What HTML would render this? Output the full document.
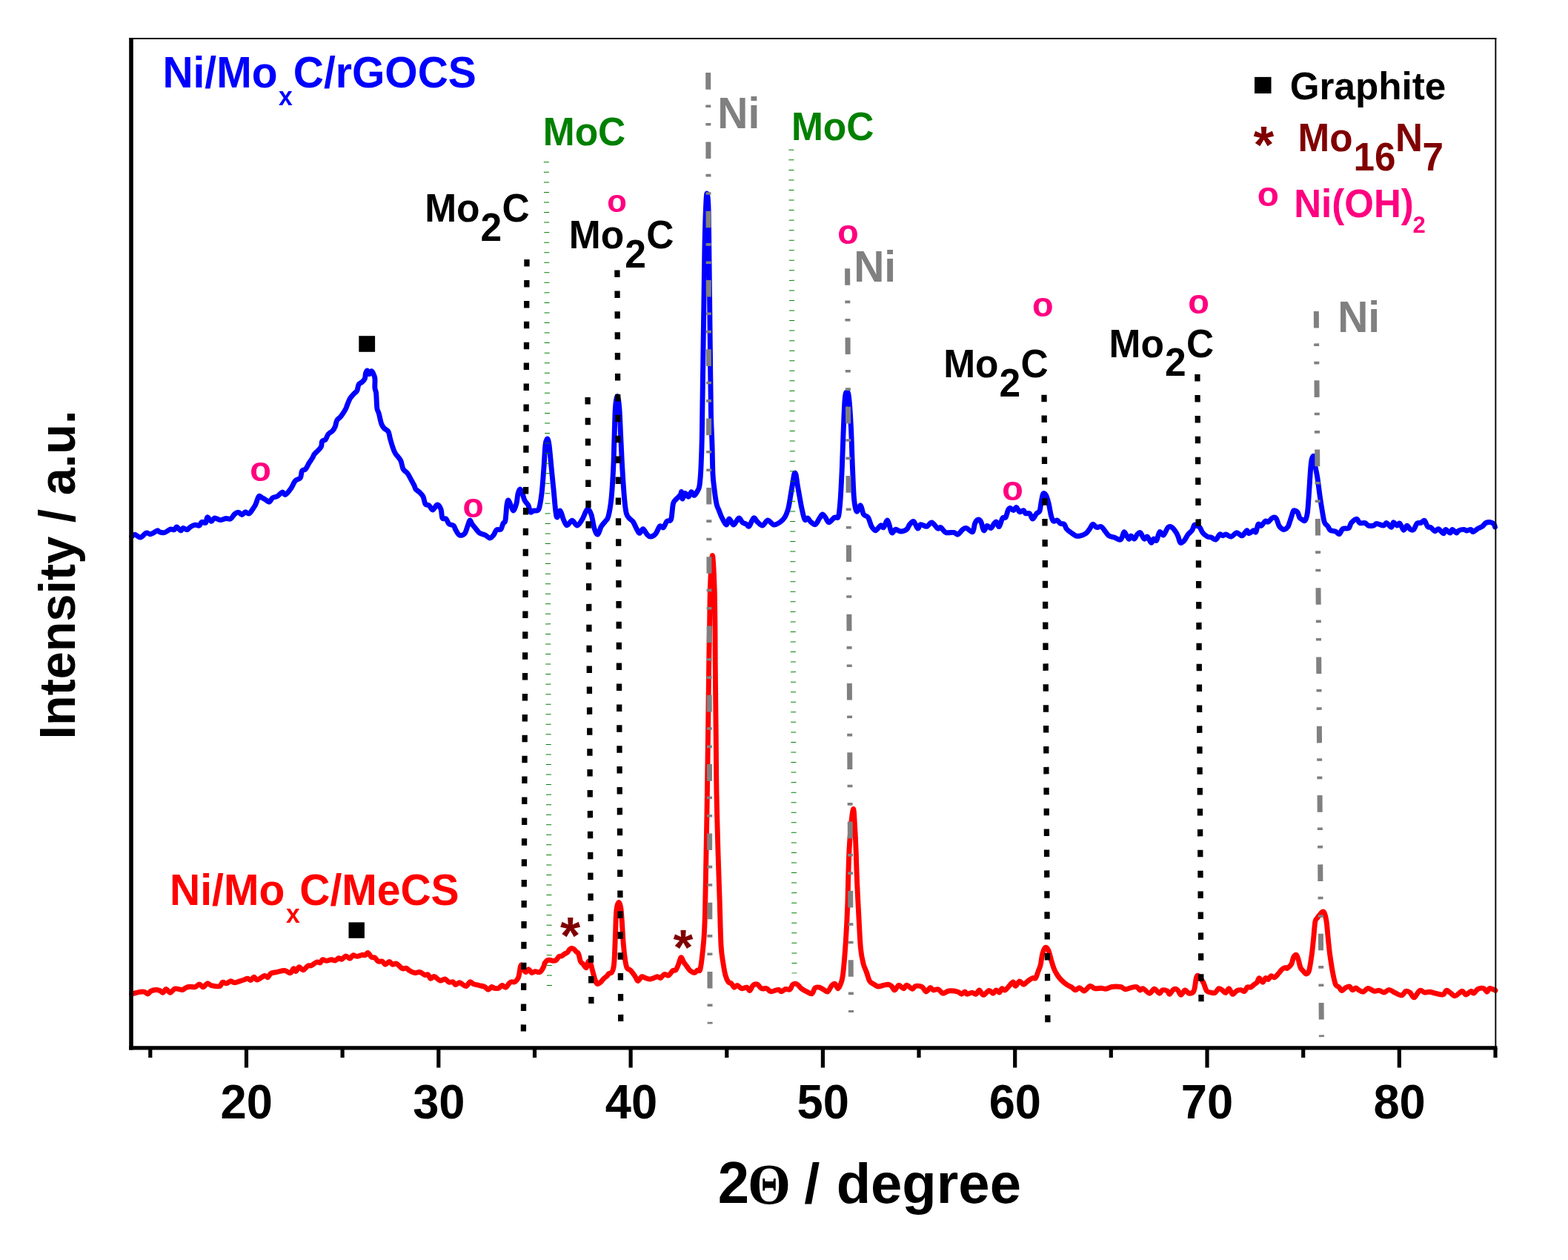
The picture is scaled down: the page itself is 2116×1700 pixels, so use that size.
<!DOCTYPE html><html><head><meta charset="utf-8"><title>XRD</title><style>html,body{margin:0;padding:0;background:#fff;overflow:hidden}svg{display:block}</style></head><body>
<svg width="2116" height="1700" viewBox="0 0 2116 1700">
<rect width="2116" height="1700" fill="#fff"/>
<path d="M177.6,723.9 C178.3,723.5 180.0,721.0 182.0,721.2 C184.0,721.4 187.1,725.4 189.6,725.0 C192.1,724.6 195.0,719.7 197.2,719.0 C199.4,718.3 201.0,720.7 202.6,720.7 C204.2,720.7 205.4,719.8 207.0,719.0 C208.6,718.2 211.0,716.0 212.4,715.8 C213.8,715.6 214.1,717.4 215.7,717.9 C217.3,718.4 219.8,719.1 222.2,718.5 C224.5,717.9 227.6,714.7 229.8,714.1 C232.0,713.5 233.8,715.2 235.2,714.7 C236.6,714.2 237.1,710.7 238.5,710.9 C239.9,711.1 242.5,715.5 243.9,715.8 C245.3,716.1 245.8,712.7 247.2,712.5 C248.6,712.3 251.0,715.0 252.6,714.7 C254.2,714.4 255.2,712.0 257.0,710.9 C258.8,709.8 261.5,708.5 263.5,708.2 C265.5,707.9 267.4,709.9 268.9,709.2 C270.3,708.6 270.8,704.9 272.2,704.3 C273.6,703.7 276.3,706.5 277.6,705.4 C278.9,704.3 278.5,698.1 279.8,697.8 C281.1,697.4 283.6,703.1 285.2,703.3 C286.8,703.5 287.6,699.2 289.6,698.9 C291.6,698.6 294.7,701.5 297.2,701.6 C299.7,701.7 302.4,699.8 304.8,699.5 C307.2,699.2 309.3,701.0 311.3,700.0 C313.3,699.0 314.9,695.0 316.7,693.5 C318.5,692.0 320.6,691.1 322.2,691.3 C323.8,691.5 325.1,694.7 326.5,694.6 C327.9,694.5 329.3,691.1 330.9,690.8 C332.5,690.5 334.5,693.7 336.3,692.9 C338.1,692.1 340.2,688.0 341.7,685.9 C343.1,683.8 343.7,683.1 345.0,680.4 C346.3,677.7 347.9,671.0 349.3,669.6 C350.8,668.2 352.2,671.0 353.7,671.7 C355.1,672.4 356.4,673.0 358.0,673.9 C359.6,674.8 361.9,677.6 363.5,677.2 C365.1,676.8 366.0,673.0 367.8,671.7 C369.6,670.4 372.1,670.9 374.3,669.6 C376.5,668.3 379.1,664.5 380.9,664.1 C382.7,663.7 383.2,668.3 385.2,667.4 C387.2,666.5 390.6,661.8 392.8,658.7 C395.0,655.6 396.2,651.2 398.3,648.9 C400.4,646.6 403.8,647.0 405.3,644.7 C406.9,642.4 406.4,637.3 407.6,635.3 C408.8,633.3 410.8,634.7 412.4,632.9 C414.0,631.1 415.5,627.2 417.1,624.7 C418.7,622.2 420.6,619.6 421.8,617.6 C423.0,615.6 422.9,614.5 424.1,612.9 C425.3,611.3 427.2,610.0 428.8,608.2 C430.4,606.5 432.5,604.5 433.5,602.4 C434.5,600.2 433.7,596.9 434.7,595.3 C435.7,593.7 438.0,594.5 439.4,592.9 C440.8,591.3 441.3,587.8 442.9,585.9 C444.5,584.0 447.2,583.0 448.8,581.2 C450.4,579.4 451.4,577.6 452.4,575.3 C453.4,572.9 453.5,569.2 454.7,567.1 C455.9,565.0 458.0,564.0 459.4,562.4 C460.8,560.8 461.7,559.4 462.9,557.6 C464.1,555.8 465.5,553.8 466.5,551.8 C467.5,549.8 467.8,548.3 468.8,545.9 C469.8,543.5 471.0,540.0 472.4,537.6 C473.8,535.2 475.5,533.5 477.1,531.8 C478.7,530.0 480.6,529.3 481.8,527.1 C483.0,524.9 482.9,520.8 484.1,518.8 C485.3,516.8 487.4,516.7 488.8,515.3 C490.2,513.9 491.6,512.6 492.4,510.6 C493.2,508.6 492.9,505.3 493.5,503.5 C494.1,501.7 495.1,499.8 495.9,500.0 C496.7,500.2 497.3,504.6 498.2,504.7 C499.1,504.8 500.3,500.8 501.2,500.6 C502.1,500.4 502.7,501.8 503.5,503.5 C504.3,505.2 505.5,507.3 505.9,510.6 C506.3,513.9 505.6,520.2 505.9,523.5 C506.2,526.8 507.1,526.1 507.6,530.6 C508.1,535.1 508.2,546.1 508.8,550.6 C509.4,555.1 510.2,554.1 511.2,557.6 C512.2,561.1 513.5,568.5 514.7,571.8 C515.9,575.1 516.6,575.8 518.2,577.6 C519.8,579.4 522.7,580.0 524.1,582.4 C525.5,584.8 525.5,588.3 526.5,591.8 C527.5,595.3 528.8,600.2 530.0,603.5 C531.2,606.8 531.7,608.8 533.5,611.8 C535.3,614.8 538.8,617.7 540.6,621.2 C542.4,624.7 542.5,630.0 544.1,632.9 C545.7,635.8 548.2,636.4 550.0,638.8 C551.8,641.2 553.2,644.4 554.7,647.1 C556.2,649.8 558.0,652.9 559.0,655.0 C560.0,657.1 559.8,658.5 561.0,660.0 C562.2,661.5 564.3,662.3 566.0,664.0 C567.7,665.7 569.7,667.3 571.0,670.0 C572.3,672.7 572.7,678.0 574.0,680.0 C575.3,682.0 577.3,680.7 579.0,682.0 C580.7,683.3 582.2,688.2 584.0,688.0 C585.8,687.8 588.2,681.2 590.0,681.0 C591.8,680.8 593.8,684.0 595.0,687.0 C596.2,690.0 595.8,696.8 597.0,699.0 C598.2,701.2 600.5,698.7 602.0,700.0 C603.5,701.3 604.3,705.5 606.0,707.0 C607.7,708.5 610.5,707.7 612.0,709.0 C613.5,710.3 613.7,712.8 615.0,715.0 C616.3,717.2 618.0,721.2 620.0,722.0 C622.0,722.8 625.2,722.0 627.0,720.0 C628.8,718.0 629.8,713.0 631.0,710.0 C632.2,707.0 633.0,702.5 634.0,702.0 C635.0,701.5 635.8,705.3 637.0,707.0 C638.2,708.7 639.3,710.0 641.0,712.0 C642.7,714.0 644.7,717.3 647.0,719.0 C649.3,720.7 652.7,720.8 655.0,722.0 C657.3,723.2 659.2,726.0 661.0,726.0 C662.8,726.0 664.5,723.8 666.0,722.0 C667.5,720.2 668.3,716.3 670.0,715.0 C671.7,713.7 674.5,715.5 676.0,714.0 C677.5,712.5 678.0,708.0 679.0,706.0 C680.0,704.0 681.2,706.2 682.0,702.0 C682.8,697.8 683.3,685.5 684.0,681.0 C684.7,676.5 685.2,675.0 686.0,675.0 C686.8,675.0 687.8,678.7 689.0,681.0 C690.2,683.3 691.7,689.3 693.0,689.0 C694.3,688.7 696.0,682.8 697.0,679.0 C698.0,675.2 698.2,669.2 699.0,666.0 C699.8,662.8 701.0,660.0 702.0,660.0 C703.0,660.0 704.0,663.5 705.0,666.0 C706.0,668.5 706.7,672.3 708.0,675.0 C709.3,677.7 711.7,679.3 713.0,682.0 C714.3,684.7 714.8,689.8 716.0,691.0 C717.2,692.2 718.2,689.7 720.0,689.0 C721.8,688.3 725.2,690.8 727.0,687.0 C728.8,683.2 729.8,675.5 731.0,666.0 C732.2,656.5 733.2,641.0 734.0,630.0 C734.8,619.0 735.2,606.3 736.0,600.0 C736.8,593.7 737.7,592.0 738.5,592.0 C739.3,592.0 740.1,593.7 741.0,600.0 C741.9,606.3 743.0,620.0 744.0,630.0 C745.0,640.0 745.8,648.8 747.0,660.0 C748.2,671.2 749.5,692.2 751.0,697.0 C752.5,701.8 754.5,688.5 756.0,689.0 C757.5,689.5 758.7,696.8 760.0,700.0 C761.3,703.2 762.9,706.7 764.0,708.0 C765.1,709.3 765.4,708.6 766.8,707.6 C768.2,706.6 770.2,702.0 772.2,702.2 C774.2,702.4 776.8,709.2 779.0,709.0 C781.2,708.8 783.5,704.4 785.7,700.8 C788.0,697.2 790.5,688.4 792.5,687.3 C794.5,686.2 796.3,689.8 797.9,694.1 C799.5,698.4 800.5,708.5 802.0,713.0 C803.5,717.5 805.1,721.6 806.7,721.1 C808.3,720.6 809.7,713.2 811.4,710.3 C813.1,707.4 815.2,705.8 816.8,703.5 C818.4,701.2 819.5,702.0 820.9,696.8 C822.3,691.6 823.9,683.2 825.0,672.4 C826.1,661.6 827.0,645.3 827.7,631.8 C828.4,618.3 828.5,604.7 829.0,591.2 C829.5,577.7 829.7,560.1 830.4,550.6 C831.1,541.1 832.2,534.4 833.1,534.4 C834.0,534.4 835.0,541.1 835.8,550.6 C836.6,560.1 837.1,577.7 837.8,591.2 C838.5,604.7 839.0,618.3 839.8,631.8 C840.6,645.3 841.7,662.2 842.6,672.4 C843.5,682.5 844.2,688.3 845.3,692.7 C846.4,697.1 847.5,697.1 849.0,699.0 C850.5,700.9 852.8,701.8 854.5,704.3 C856.2,706.8 857.8,711.2 859.2,713.7 C860.6,716.2 861.6,719.4 863.0,719.4 C864.4,719.4 866.1,713.4 867.8,713.7 C869.5,714.0 871.7,719.6 873.4,721.3 C875.1,723.0 876.2,724.3 878.1,724.1 C880.0,723.9 882.8,722.6 884.8,720.3 C886.8,717.9 888.7,711.4 890.4,710.0 C892.1,708.6 893.6,712.9 895.2,711.8 C896.8,710.7 898.2,705.2 899.9,703.3 C901.6,701.4 904.2,704.4 905.6,700.5 C907.0,696.6 907.3,684.1 908.4,679.7 C909.5,675.3 910.9,675.4 912.0,674.0 C913.1,672.6 913.9,672.4 915.0,671.2 C916.1,670.0 917.7,668.3 918.5,667.0 C919.3,665.7 919.3,662.6 919.7,663.6 C920.1,664.6 920.2,672.7 921.0,673.0 C921.8,673.3 923.1,666.0 924.5,665.5 C925.9,665.0 927.8,670.5 929.2,670.2 C930.6,669.9 931.8,663.9 933.0,663.6 C934.2,663.3 935.4,668.5 936.7,668.4 C938.0,668.3 939.8,665.2 941.0,663.0 C942.2,660.8 943.2,660.5 944.0,655.0 C944.8,649.5 945.5,640.8 946.0,630.0 C946.5,619.2 947.0,605.0 947.3,590.0 C947.6,575.0 947.7,560.0 948.0,540.0 C948.3,520.0 948.7,493.3 949.0,470.0 C949.3,446.7 949.7,423.3 950.0,400.0 C950.3,376.7 950.6,350.0 951.0,330.0 C951.4,310.0 952.0,291.5 952.5,280.0 C953.0,268.5 953.4,261.0 954.0,261.0 C954.6,261.0 955.5,265.2 956.0,280.0 C956.5,294.8 956.7,326.7 957.0,350.0 C957.3,373.3 957.5,395.0 957.8,420.0 C958.1,445.0 958.4,476.7 958.7,500.0 C959.0,523.3 959.1,543.3 959.5,560.0 C959.9,576.7 960.6,586.7 961.0,600.0 C961.4,613.3 961.5,630.0 962.0,640.0 C962.5,650.0 963.2,653.3 964.0,660.0 C964.8,666.7 966.0,675.3 967.0,680.0 C968.0,684.7 968.8,685.0 970.0,688.0 C971.2,691.0 972.3,694.7 974.0,698.0 C975.7,701.3 978.3,707.7 980.0,708.0 C981.7,708.3 982.3,700.0 984.0,700.0 C985.7,700.0 987.8,708.2 990.0,708.0 C992.2,707.8 995.0,699.5 997.0,699.0 C999.0,698.5 1000.3,703.7 1002.0,705.0 C1003.7,706.3 1005.5,706.2 1007.0,707.0 C1008.5,707.8 1009.3,711.3 1011.0,710.0 C1012.7,708.7 1015.2,700.0 1017.0,699.0 C1018.8,698.0 1020.0,702.3 1022.0,704.0 C1024.0,705.7 1026.7,709.3 1029.0,709.0 C1031.3,708.7 1033.5,702.2 1036.0,702.0 C1038.5,701.8 1041.3,707.5 1044.0,708.0 C1046.7,708.5 1049.5,706.7 1052.0,705.0 C1054.5,703.3 1057.0,701.3 1059.0,698.0 C1061.0,694.7 1062.7,690.0 1064.0,685.0 C1065.3,680.0 1066.0,673.8 1067.0,668.0 C1068.0,662.2 1069.2,654.8 1070.0,650.0 C1070.8,645.2 1071.3,640.7 1072.0,639.0 C1072.7,637.3 1073.3,637.7 1074.0,640.0 C1074.7,642.3 1075.2,648.0 1076.0,653.0 C1076.8,658.0 1078.0,664.5 1079.0,670.0 C1080.0,675.5 1080.8,680.8 1082.0,686.0 C1083.2,691.2 1084.7,698.8 1086.0,701.0 C1087.3,703.2 1088.7,698.5 1090.0,699.0 C1091.3,699.5 1092.3,702.6 1094.0,704.0 C1095.7,705.4 1098.4,708.4 1100.4,707.6 C1102.4,706.8 1104.2,701.7 1105.8,699.4 C1107.4,697.1 1108.6,694.2 1109.9,694.0 C1111.2,693.8 1112.4,696.3 1113.9,698.1 C1115.4,699.9 1116.7,704.9 1118.7,704.9 C1120.7,704.9 1124.0,699.5 1126.1,698.1 C1128.2,696.7 1130.2,701.0 1131.5,696.7 C1132.8,692.4 1133.4,683.2 1134.2,672.4 C1135.0,661.6 1135.6,647.6 1136.3,631.8 C1137.0,616.0 1137.6,593.5 1138.3,577.7 C1139.0,561.9 1139.5,545.2 1140.3,537.1 C1141.1,529.0 1142.1,529.0 1143.0,529.0 C1143.9,529.0 1144.8,529.0 1145.7,537.1 C1146.6,545.2 1147.7,561.9 1148.5,577.7 C1149.3,593.5 1149.8,616.0 1150.5,631.8 C1151.2,647.6 1151.6,662.7 1152.5,672.4 C1153.4,682.1 1154.4,688.4 1155.9,690.0 C1157.4,691.6 1159.7,681.2 1161.3,681.9 C1162.9,682.6 1163.7,691.3 1165.4,694.0 C1167.1,696.7 1169.7,695.4 1171.5,698.1 C1173.3,700.8 1174.5,707.4 1176.2,710.3 C1177.9,713.2 1179.6,715.9 1181.6,715.7 C1183.6,715.5 1186.6,709.6 1188.4,708.9 C1190.2,708.2 1190.8,712.7 1192.4,711.6 C1194.0,710.5 1196.0,701.1 1197.8,702.2 C1199.6,703.3 1201.5,716.4 1203.3,718.4 C1205.1,720.4 1206.7,714.5 1208.7,714.3 C1210.7,714.1 1212.9,717.0 1215.4,717.0 C1217.9,717.0 1221.6,715.9 1223.6,714.3 C1225.6,712.7 1226.0,709.4 1227.6,707.6 C1229.2,705.8 1231.2,702.6 1233.0,703.5 C1234.8,704.4 1236.8,712.3 1238.4,713.0 C1240.0,713.7 1240.5,708.1 1242.5,707.6 C1244.5,707.1 1248.1,710.8 1250.6,710.3 C1253.1,709.8 1254.9,704.4 1257.4,704.9 C1259.9,705.4 1263.5,711.9 1265.5,713.0 C1267.5,714.1 1267.8,710.7 1269.6,711.6 C1271.4,712.5 1273.4,717.3 1276.3,718.4 C1279.2,719.5 1284.5,717.9 1287.2,718.4 C1289.9,718.9 1290.6,721.8 1292.6,721.1 C1294.6,720.4 1297.4,715.7 1299.3,714.3 C1301.2,712.9 1302.0,711.9 1304.2,712.5 C1306.4,713.1 1310.6,718.7 1312.5,717.7 C1314.4,716.7 1314.4,709.1 1315.6,706.3 C1316.8,703.5 1318.4,701.5 1319.8,701.1 C1321.2,700.8 1322.6,701.8 1323.9,704.2 C1325.2,706.6 1326.2,714.8 1327.6,715.7 C1329.0,716.6 1330.6,709.9 1332.2,709.4 C1333.8,708.9 1335.8,713.0 1337.4,712.5 C1339.0,712.0 1340.4,707.7 1341.6,706.3 C1342.8,704.9 1343.6,703.5 1344.7,704.2 C1345.8,704.9 1346.9,711.4 1348.3,710.5 C1349.7,709.6 1351.5,701.1 1353.0,699.0 C1354.5,696.9 1356.0,699.7 1357.2,698.0 C1358.4,696.3 1359.3,690.7 1360.3,688.6 C1361.3,686.5 1362.2,685.5 1363.4,685.5 C1364.6,685.5 1366.2,688.8 1367.6,688.6 C1369.0,688.4 1370.3,684.1 1371.7,684.5 C1373.1,684.9 1374.3,690.0 1375.9,690.7 C1377.5,691.4 1379.7,688.2 1381.1,688.6 C1382.5,689.0 1382.8,692.1 1384.2,692.8 C1385.6,693.5 1387.8,691.6 1389.4,692.8 C1391.0,694.0 1392.0,700.1 1393.6,700.1 C1395.2,700.1 1397.2,694.5 1398.8,692.8 C1400.3,691.1 1401.9,692.1 1402.9,689.7 C1403.9,687.3 1404.3,681.9 1405.0,678.2 C1405.7,674.6 1406.4,669.9 1407.1,667.8 C1407.8,665.7 1408.3,665.4 1409.2,665.7 C1410.1,666.1 1411.3,667.5 1412.3,669.9 C1413.3,672.3 1414.4,676.0 1415.4,680.3 C1416.4,684.6 1417.5,692.1 1418.5,695.9 C1419.5,699.7 1420.2,702.2 1421.6,703.2 C1423.0,704.2 1425.2,701.6 1426.8,702.1 C1428.4,702.6 1429.4,705.4 1431.0,706.3 C1432.6,707.2 1434.8,706.1 1436.2,707.3 C1437.6,708.5 1437.7,711.7 1439.3,713.6 C1440.9,715.5 1443.5,717.2 1445.6,718.8 C1447.7,720.3 1449.7,722.2 1451.8,722.9 C1453.9,723.6 1455.8,723.4 1458.0,722.9 C1460.2,722.4 1463.2,721.3 1465.3,719.8 C1467.4,718.2 1468.9,715.7 1470.5,713.6 C1472.1,711.5 1473.1,707.6 1474.7,707.3 C1476.3,706.9 1478.0,711.0 1479.9,711.5 C1481.8,712.0 1484.2,709.6 1486.1,710.5 C1488.0,711.4 1489.6,714.6 1491.3,716.7 C1493.0,718.8 1494.4,721.5 1496.5,722.9 C1498.6,724.3 1501.2,724.1 1503.8,725.0 C1506.4,725.9 1510.0,729.1 1512.1,728.1 C1514.2,727.1 1515.3,720.3 1516.3,718.8 C1517.3,717.2 1516.9,717.4 1518.1,718.8 C1519.3,720.2 1521.9,726.4 1523.3,727.1 C1524.7,727.8 1525.2,722.9 1526.4,722.9 C1527.6,722.9 1529.2,727.4 1530.6,727.1 C1532.0,726.8 1533.4,722.3 1534.8,720.9 C1536.2,719.5 1537.4,717.8 1538.9,718.8 C1540.5,719.8 1542.5,726.2 1544.1,727.1 C1545.7,728.0 1546.7,723.1 1548.3,724.0 C1549.9,724.9 1552.1,731.8 1553.5,732.3 C1554.9,732.8 1555.4,727.6 1556.6,727.1 C1557.8,726.6 1559.3,730.8 1560.7,729.2 C1562.1,727.6 1563.3,718.9 1564.9,717.7 C1566.5,716.5 1568.2,722.9 1570.1,721.9 C1572.0,720.9 1574.4,713.2 1576.3,711.5 C1578.2,709.8 1579.8,710.5 1581.5,711.5 C1583.2,712.5 1585.3,715.6 1586.7,717.7 C1588.1,719.8 1588.9,721.6 1589.9,724.0 C1591.0,726.4 1591.6,731.4 1593.0,732.3 C1594.4,733.2 1596.5,731.1 1598.2,729.2 C1599.9,727.3 1601.7,723.1 1603.4,720.9 C1605.1,718.6 1607.2,717.8 1608.6,715.7 C1610.0,713.6 1610.7,709.5 1611.7,708.4 C1612.7,707.3 1613.6,708.9 1614.8,709.4 C1616.0,709.9 1617.6,709.9 1619.0,711.5 C1620.4,713.1 1621.4,716.7 1623.1,718.8 C1624.8,720.9 1627.5,723.0 1629.4,724.0 C1631.3,725.0 1632.7,724.3 1634.6,725.0 C1636.5,725.7 1638.9,728.8 1640.8,728.1 C1642.7,727.4 1644.4,721.8 1646.0,720.9 C1647.6,720.0 1648.8,722.9 1650.2,722.9 C1651.6,722.9 1652.4,720.7 1654.3,720.9 C1656.2,721.1 1659.2,724.4 1661.6,724.0 C1664.0,723.6 1666.5,719.0 1668.9,718.8 C1671.3,718.6 1674.0,723.4 1676.2,722.9 C1678.5,722.4 1680.9,716.2 1682.4,715.7 C1684.0,715.2 1683.9,719.8 1685.5,719.8 C1687.1,719.8 1690.2,716.1 1691.8,715.7 C1693.4,715.4 1693.9,719.1 1694.9,717.7 C1695.9,716.3 1696.8,708.7 1698.0,707.3 C1699.2,705.9 1700.5,710.1 1702.1,709.4 C1703.6,708.7 1705.7,704.1 1707.3,703.2 C1708.9,702.3 1709.9,704.9 1711.5,704.2 C1713.1,703.5 1715.0,699.9 1716.7,699.0 C1718.4,698.1 1720.3,697.3 1721.9,699.0 C1723.5,700.7 1724.7,707.0 1726.1,709.4 C1727.5,711.8 1729.0,712.8 1730.2,713.6 C1731.4,714.4 1732.2,714.9 1733.5,714.4 C1734.8,713.9 1736.7,712.7 1737.9,710.9 C1739.1,709.1 1739.7,706.3 1740.6,703.8 C1741.5,701.3 1742.3,698.4 1743.2,695.9 C1744.1,693.4 1744.6,689.5 1745.9,688.8 C1747.2,688.1 1749.9,689.9 1751.2,691.5 C1752.5,693.1 1752.8,696.9 1753.8,698.5 C1754.8,700.1 1756.2,700.6 1757.4,701.2 C1758.7,701.8 1760.1,703.7 1761.3,702.1 C1762.5,700.5 1763.6,697.0 1764.4,691.5 C1765.2,686.0 1765.6,677.5 1766.2,669.4 C1766.8,661.3 1767.4,650.2 1767.9,642.9 C1768.4,635.5 1768.8,629.4 1769.3,625.3 C1769.8,621.2 1770.0,619.8 1770.6,618.2 C1771.2,616.6 1772.2,614.4 1772.8,615.6 C1773.4,616.8 1773.3,620.8 1774.1,625.3 C1774.9,629.8 1776.4,635.5 1777.6,642.9 C1778.8,650.2 1780.0,661.3 1781.2,669.4 C1782.4,677.5 1783.7,685.6 1784.7,691.5 C1785.7,697.4 1786.2,701.6 1787.4,704.7 C1788.6,707.8 1790.5,708.2 1791.8,710.0 C1793.1,711.8 1793.5,714.1 1795.3,715.3 C1797.1,716.5 1800.4,716.2 1802.4,717.1 C1804.5,718.0 1806.0,721.2 1807.6,720.6 C1809.2,720.0 1810.0,714.8 1812.1,713.5 C1814.2,712.2 1818.1,713.9 1820.0,712.6 C1821.9,711.3 1821.7,707.7 1823.5,705.6 C1825.3,703.5 1828.7,700.3 1830.6,700.3 C1832.5,700.3 1833.1,704.7 1835.0,705.6 C1836.9,706.5 1840.2,705.0 1842.1,705.6 C1844.0,706.2 1844.6,708.5 1846.5,709.1 C1848.4,709.7 1851.6,709.5 1853.5,709.1 C1855.4,708.7 1855.7,706.5 1857.9,706.5 C1860.1,706.5 1864.6,709.2 1866.8,709.1 C1869.0,709.0 1869.4,705.2 1871.2,705.6 C1873.0,706.0 1876.0,711.6 1877.6,711.4 C1879.2,711.2 1879.3,705.0 1880.6,704.6 C1881.8,704.2 1883.7,708.9 1885.1,709.1 C1886.5,709.4 1887.4,705.1 1888.9,706.1 C1890.4,707.1 1892.6,714.7 1894.2,715.2 C1895.8,715.7 1897.2,709.2 1898.7,709.1 C1900.2,709.0 1901.8,713.5 1903.3,714.4 C1904.8,715.3 1906.3,715.8 1907.8,714.4 C1909.3,713.0 1910.7,707.6 1912.3,706.1 C1913.9,704.6 1915.9,706.0 1917.6,705.4 C1919.2,704.8 1920.7,701.4 1922.2,702.3 C1923.7,703.2 1925.3,709.2 1926.7,710.7 C1928.1,712.2 1928.9,710.4 1930.5,711.4 C1932.1,712.4 1934.7,716.3 1936.5,716.7 C1938.3,717.1 1939.2,713.2 1941.1,713.7 C1943.0,714.2 1946.3,719.6 1947.9,719.7 C1949.5,719.8 1949.4,714.5 1950.9,714.4 C1952.4,714.3 1955.5,719.0 1957.0,719.0 C1958.5,719.0 1958.6,714.4 1960.0,714.4 C1961.4,714.4 1963.9,718.7 1965.3,719.0 C1966.7,719.3 1966.7,716.8 1968.3,716.0 C1969.9,715.2 1973.2,714.4 1975.1,714.4 C1977.0,714.4 1978.0,716.0 1979.6,716.0 C1981.2,716.0 1983.5,714.1 1984.9,714.4 C1986.3,714.6 1986.3,717.8 1988.0,717.5 C1989.7,717.2 1992.8,714.1 1994.8,712.9 C1996.8,711.7 1998.3,711.6 2000.1,710.4 C2001.9,709.1 2003.5,706.4 2005.4,705.4 C2007.3,704.4 2009.7,704.4 2011.4,704.6 C2013.2,704.9 2014.9,705.8 2015.9,706.9 C2016.9,708.0 2017.2,710.3 2017.5,711.0" fill="none" stroke="#0000FF" stroke-width="6.9" stroke-linejoin="round" stroke-linecap="round"/>
<path d="M177.6,1341.0 C179.4,1340.5 185.6,1338.8 188.5,1338.3 C191.4,1337.8 193.2,1337.8 195.0,1338.3 C196.8,1338.8 197.9,1341.2 199.3,1341.0 C200.8,1340.8 201.9,1338.1 203.7,1337.2 C205.5,1336.3 208.2,1335.6 210.2,1335.5 C212.2,1335.4 214.1,1336.0 215.7,1336.6 C217.3,1337.2 218.6,1339.6 220.0,1339.3 C221.4,1339.0 222.7,1334.5 224.3,1334.5 C225.9,1334.5 227.8,1339.4 229.8,1339.3 C231.8,1339.2 233.6,1334.5 236.3,1333.9 C239.0,1333.3 243.8,1335.7 246.1,1335.5 C248.4,1335.3 248.8,1333.5 250.4,1332.8 C252.0,1332.1 253.7,1331.4 255.9,1331.2 C258.1,1331.0 261.3,1332.2 263.5,1331.7 C265.7,1331.2 267.1,1327.9 268.9,1327.9 C270.7,1327.9 272.5,1331.9 274.3,1331.7 C276.1,1331.5 278.0,1327.2 279.8,1326.8 C281.6,1326.4 282.5,1328.9 285.2,1329.6 C287.9,1330.2 293.6,1331.4 296.1,1330.7 C298.6,1330.0 298.8,1325.9 300.4,1325.2 C302.0,1324.5 304.1,1327.1 305.9,1326.8 C307.7,1326.5 309.5,1323.8 311.3,1323.6 C313.1,1323.4 314.0,1326.0 316.7,1325.8 C319.4,1325.6 324.7,1323.4 327.6,1322.5 C330.5,1321.6 332.3,1320.3 334.1,1320.3 C335.9,1320.3 337.1,1322.8 338.5,1322.5 C339.9,1322.2 341.4,1318.3 342.8,1318.2 C344.2,1318.1 344.8,1322.3 347.2,1322.0 C349.6,1321.7 354.6,1317.0 357.0,1316.5 C359.4,1316.0 359.9,1319.2 361.3,1318.7 C362.8,1318.2 363.7,1314.5 365.7,1313.3 C367.7,1312.1 370.2,1312.2 373.3,1311.6 C376.4,1311.0 381.0,1309.3 384.1,1309.5 C387.2,1309.7 389.7,1313.2 391.7,1312.7 C393.7,1312.2 394.8,1307.1 396.1,1306.7 C397.4,1306.3 398.0,1310.8 399.3,1310.5 C400.6,1310.2 402.1,1304.9 403.7,1304.6 C405.3,1304.3 407.1,1309.2 409.1,1308.9 C411.1,1308.6 413.9,1303.9 415.7,1302.9 C417.5,1301.9 418.0,1303.7 420.0,1302.9 C422.0,1302.1 425.6,1298.6 427.6,1298.0 C429.6,1297.4 430.7,1299.6 432.0,1299.1 C433.3,1298.6 433.8,1295.2 435.2,1294.8 C436.6,1294.3 438.7,1296.4 440.7,1296.4 C442.7,1296.4 445.2,1294.9 447.2,1294.8 C449.2,1294.7 451.0,1296.3 452.6,1295.9 C454.2,1295.5 455.6,1292.9 457.0,1292.6 C458.4,1292.3 459.7,1294.7 461.3,1294.2 C462.9,1293.8 464.9,1290.1 466.7,1289.9 C468.5,1289.7 470.6,1293.4 472.2,1293.2 C473.8,1293.0 474.9,1289.3 476.5,1288.8 C478.1,1288.3 480.0,1290.5 482.0,1290.4 C484.0,1290.3 486.7,1288.6 488.5,1288.3 C490.3,1288.0 491.4,1289.3 492.8,1288.8 C494.2,1288.3 495.2,1285.0 496.6,1285.5 C498.1,1286.0 499.9,1290.4 501.5,1291.5 C503.1,1292.6 504.4,1291.2 505.9,1292.1 C507.3,1293.0 508.6,1296.2 510.2,1297.0 C511.8,1297.8 514.1,1296.3 515.7,1297.0 C517.3,1297.7 518.4,1301.2 520.0,1301.3 C521.6,1301.4 523.8,1297.5 525.4,1297.5 C527.0,1297.5 528.2,1300.8 529.8,1301.3 C531.4,1301.8 533.0,1299.3 535.2,1300.2 C537.4,1301.1 540.6,1305.7 542.8,1306.7 C545.0,1307.7 546.7,1305.7 548.3,1306.2 C549.9,1306.7 550.6,1308.4 552.6,1309.5 C554.6,1310.6 557.9,1312.4 560.2,1312.7 C562.6,1313.0 564.5,1311.1 566.7,1311.6 C568.9,1312.0 571.5,1314.9 573.3,1315.4 C575.1,1316.0 576.3,1314.1 577.6,1314.9 C578.9,1315.7 579.5,1319.8 580.9,1320.3 C582.3,1320.8 584.1,1317.1 586.3,1317.6 C588.5,1318.0 591.5,1322.5 593.9,1323.0 C596.2,1323.5 598.4,1320.5 600.4,1320.9 C602.4,1321.3 604.1,1324.6 605.9,1325.2 C607.7,1325.8 609.8,1324.2 611.3,1324.7 C612.8,1325.2 613.1,1328.3 614.6,1328.5 C616.1,1328.7 618.3,1325.8 620.0,1325.8 C621.7,1325.8 623.1,1327.7 624.7,1328.5 C626.3,1329.3 627.9,1331.0 629.5,1330.4 C631.1,1329.8 632.6,1325.3 634.2,1324.8 C635.8,1324.3 636.9,1326.8 638.9,1327.6 C640.9,1328.4 644.0,1328.9 646.5,1329.5 C649.0,1330.1 652.0,1330.5 654.0,1331.4 C656.0,1332.4 657.2,1335.2 658.8,1335.2 C660.4,1335.2 662.1,1331.7 663.5,1331.4 C664.9,1331.1 665.7,1333.0 667.3,1333.3 C668.9,1333.6 671.2,1333.9 672.9,1333.3 C674.6,1332.7 676.1,1329.7 677.7,1329.5 C679.3,1329.3 680.8,1332.8 682.4,1332.3 C684.0,1331.8 685.9,1328.0 687.1,1326.7 C688.4,1325.5 688.6,1325.1 689.9,1324.8 C691.2,1324.5 693.3,1325.4 694.7,1324.8 C696.1,1324.2 697.5,1322.4 698.4,1321.0 C699.3,1319.6 699.7,1319.0 700.3,1316.3 C700.9,1313.6 701.6,1307.3 702.2,1304.9 C702.8,1302.5 703.3,1301.5 704.1,1302.1 C704.9,1302.7 706.0,1307.1 707.0,1308.7 C708.0,1310.3 708.7,1311.7 709.8,1311.5 C710.9,1311.3 712.3,1307.6 713.6,1307.8 C714.9,1308.0 716.0,1312.0 717.4,1312.5 C718.8,1313.0 720.2,1310.8 722.1,1310.6 C724.0,1310.4 726.8,1312.5 728.7,1311.5 C730.6,1310.5 732.3,1307.0 733.4,1304.9 C734.5,1302.9 734.3,1300.8 735.3,1299.2 C736.2,1297.6 737.8,1296.1 739.1,1295.5 C740.4,1294.9 741.6,1295.3 742.9,1295.5 C744.1,1295.7 745.4,1296.4 746.6,1296.4 C747.9,1296.4 749.1,1296.5 750.4,1295.5 C751.7,1294.5 752.9,1291.7 754.2,1290.7 C755.5,1289.8 756.7,1290.4 758.0,1289.8 C759.3,1289.2 760.5,1287.8 761.8,1287.0 C763.1,1286.2 764.5,1286.0 765.6,1285.1 C766.7,1284.1 767.5,1282.2 768.4,1281.3 C769.3,1280.3 770.2,1279.6 771.2,1279.4 C772.2,1279.2 773.0,1279.5 774.1,1280.3 C775.2,1281.1 776.7,1283.0 777.8,1284.1 C778.9,1285.2 779.8,1284.8 780.7,1287.0 C781.7,1289.2 782.5,1295.2 783.5,1297.4 C784.5,1299.6 785.1,1298.8 786.4,1300.2 C787.7,1301.6 789.9,1306.4 791.1,1305.9 C792.4,1305.4 793.0,1298.5 793.9,1297.4 C794.8,1296.3 795.8,1297.2 796.7,1299.2 C797.7,1301.2 798.5,1305.6 799.6,1309.6 C800.7,1313.5 802.3,1319.9 803.4,1322.9 C804.5,1325.9 805.0,1327.3 806.2,1327.6 C807.5,1327.9 809.5,1326.0 810.9,1324.8 C812.3,1323.6 813.5,1321.5 814.9,1320.2 C816.3,1318.9 818.0,1318.0 819.1,1316.9 C820.2,1315.8 820.4,1314.4 821.5,1313.6 C822.6,1312.8 824.5,1313.5 825.6,1312.0 C826.7,1310.5 827.5,1308.2 828.1,1304.6 C828.7,1301.0 828.9,1298.4 829.3,1290.6 C829.7,1282.8 830.2,1267.9 830.6,1257.6 C831.0,1247.3 831.1,1235.4 831.8,1228.8 C832.5,1222.2 833.7,1218.5 834.7,1217.7 C835.7,1216.9 836.9,1220.0 837.6,1223.9 C838.4,1227.8 838.6,1232.8 839.2,1241.2 C839.8,1249.6 840.5,1264.9 841.3,1274.1 C842.1,1283.3 843.0,1290.9 843.8,1296.3 C844.6,1301.7 845.1,1304.1 846.2,1306.2 C847.3,1308.3 848.9,1307.5 850.3,1308.7 C851.7,1309.9 853.2,1311.9 854.5,1313.6 C855.8,1315.2 856.7,1316.9 857.8,1318.6 C858.9,1320.2 859.6,1323.7 861.0,1323.5 C862.4,1323.3 864.4,1318.4 866.0,1317.7 C867.6,1317.0 869.0,1318.9 870.9,1319.4 C872.8,1320.0 875.6,1321.0 877.5,1321.0 C879.4,1321.0 880.9,1320.0 882.5,1319.4 C884.1,1318.9 885.9,1317.7 887.4,1317.7 C888.9,1317.7 890.0,1319.9 891.5,1319.4 C893.0,1318.9 894.7,1315.0 896.5,1314.5 C898.3,1314.0 900.3,1316.9 902.2,1316.1 C904.1,1315.3 906.4,1310.7 908.0,1309.5 C909.6,1308.3 910.8,1310.1 912.1,1308.7 C913.4,1307.3 914.4,1303.8 915.6,1301.0 C916.8,1298.2 917.9,1292.3 919.1,1291.8 C920.3,1291.3 921.4,1296.2 922.7,1298.2 C924.0,1300.2 925.5,1302.0 926.9,1303.9 C928.3,1305.8 929.4,1308.1 931.2,1309.5 C933.0,1310.9 936.0,1312.5 937.6,1312.4 C939.2,1312.3 940.0,1309.6 941.1,1309.0 C942.2,1308.4 943.5,1311.3 944.5,1309.0 C945.5,1306.7 946.1,1302.3 947.0,1295.0 C947.9,1287.7 949.2,1275.8 950.0,1265.0 C950.8,1254.2 951.0,1249.2 951.5,1230.0 C952.0,1210.8 952.5,1176.7 953.0,1150.0 C953.5,1123.3 954.0,1096.7 954.4,1070.0 C954.8,1043.3 955.1,1019.5 955.5,990.0 C955.9,960.5 956.4,916.3 956.7,893.0 C957.0,869.7 957.2,867.2 957.5,850.0 C957.8,832.8 957.9,806.8 958.5,790.0 C959.1,773.2 960.5,749.5 961.4,749.5 C962.3,749.5 963.4,773.2 964.0,790.0 C964.6,806.8 964.8,832.8 965.0,850.0 C965.2,867.2 965.0,869.7 965.2,893.0 C965.4,916.3 965.9,960.5 966.2,990.0 C966.5,1019.5 966.5,1043.3 967.0,1070.0 C967.5,1096.7 968.3,1126.7 969.0,1150.0 C969.7,1173.3 970.3,1189.2 971.0,1210.0 C971.7,1230.8 972.2,1260.0 973.0,1275.0 C973.8,1290.0 975.0,1293.2 976.0,1300.0 C977.0,1306.8 977.8,1311.8 979.0,1316.0 C980.2,1320.2 981.7,1323.2 983.0,1325.0 C984.3,1326.8 985.7,1325.8 987.0,1327.0 C988.3,1328.2 989.4,1331.8 990.7,1332.2 C992.0,1332.6 993.3,1329.2 995.0,1329.4 C996.7,1329.7 998.6,1333.2 1000.7,1333.7 C1002.8,1334.2 1005.9,1331.7 1007.8,1332.2 C1009.7,1332.7 1010.6,1337.0 1012.0,1336.5 C1013.4,1336.0 1014.6,1330.8 1016.3,1329.4 C1017.9,1328.0 1020.0,1327.3 1021.9,1328.0 C1023.8,1328.7 1025.5,1332.8 1027.6,1333.7 C1029.7,1334.7 1032.6,1333.0 1034.7,1333.7 C1036.8,1334.4 1037.8,1337.7 1040.4,1337.9 C1043.0,1338.1 1048.0,1335.1 1050.3,1335.1 C1052.6,1335.1 1052.8,1338.0 1054.5,1337.9 C1056.2,1337.8 1058.3,1334.9 1060.2,1334.4 C1062.1,1333.9 1064.2,1336.2 1065.9,1335.1 C1067.6,1334.0 1068.4,1329.2 1070.1,1328.0 C1071.8,1326.8 1073.9,1327.0 1075.8,1328.0 C1077.7,1329.0 1079.4,1332.0 1081.5,1333.7 C1083.6,1335.4 1086.2,1336.7 1088.6,1337.9 C1091.0,1339.1 1093.8,1341.5 1095.7,1340.7 C1097.6,1339.9 1098.2,1334.3 1099.9,1332.9 C1101.6,1331.5 1103.7,1331.8 1105.6,1332.2 C1107.5,1332.6 1109.4,1334.1 1111.3,1335.1 C1113.2,1336.0 1115.0,1338.9 1116.9,1337.9 C1118.8,1337.0 1120.9,1331.2 1122.6,1329.4 C1124.3,1327.6 1125.5,1326.6 1126.9,1327.3 C1128.3,1328.0 1129.7,1334.1 1131.1,1333.7 C1132.5,1333.3 1134.3,1328.2 1135.4,1325.1 C1136.5,1322.0 1136.9,1319.3 1137.5,1315.0 C1138.1,1310.7 1138.4,1307.1 1139.1,1299.4 C1139.8,1291.7 1140.6,1281.6 1141.4,1268.9 C1142.2,1256.2 1143.1,1238.3 1143.7,1223.0 C1144.3,1207.7 1144.5,1189.8 1144.9,1177.1 C1145.3,1164.3 1145.5,1156.7 1146.0,1146.5 C1146.5,1136.3 1147.3,1125.1 1148.2,1115.9 C1149.1,1106.7 1150.7,1091.5 1151.6,1091.5 C1152.5,1091.5 1153.0,1106.7 1153.6,1115.9 C1154.2,1125.1 1154.6,1133.8 1155.1,1146.5 C1155.6,1159.2 1156.0,1177.1 1156.7,1192.4 C1157.4,1207.7 1158.2,1223.7 1159.0,1238.3 C1159.8,1252.9 1160.5,1269.7 1161.5,1280.0 C1162.5,1290.3 1163.7,1294.7 1165.0,1300.0 C1166.3,1305.3 1168.1,1308.0 1169.5,1312.0 C1170.9,1316.0 1172.0,1321.0 1173.6,1323.7 C1175.2,1326.4 1177.4,1326.8 1179.3,1328.0 C1181.2,1329.2 1182.9,1330.8 1185.0,1331.0 C1187.1,1331.2 1189.8,1329.9 1192.1,1329.4 C1194.4,1329.0 1196.9,1328.1 1198.7,1328.3 C1200.5,1328.5 1201.5,1329.1 1203.0,1330.4 C1204.5,1331.7 1205.8,1336.1 1207.4,1335.9 C1209.0,1335.7 1210.8,1329.7 1212.8,1329.3 C1214.8,1328.9 1217.5,1333.7 1219.3,1333.7 C1221.1,1333.7 1221.7,1329.2 1223.7,1329.3 C1225.7,1329.4 1229.3,1334.0 1231.3,1334.2 C1233.3,1334.4 1233.5,1330.9 1235.7,1330.4 C1237.9,1330.0 1242.0,1330.2 1244.3,1331.5 C1246.6,1332.8 1248.0,1337.8 1249.8,1338.0 C1251.6,1338.2 1253.6,1332.9 1255.2,1332.6 C1256.8,1332.2 1257.8,1335.5 1259.6,1335.9 C1261.4,1336.3 1263.9,1334.1 1266.1,1334.8 C1268.3,1335.5 1270.2,1339.8 1272.6,1340.2 C1274.9,1340.6 1276.9,1337.4 1280.2,1337.0 C1283.5,1336.6 1289.3,1337.3 1292.2,1338.0 C1295.1,1338.7 1296.0,1341.3 1297.6,1341.3 C1299.2,1341.3 1300.7,1338.0 1302.0,1338.0 C1303.3,1338.0 1303.6,1341.1 1305.2,1341.3 C1306.8,1341.5 1309.7,1339.1 1311.7,1339.1 C1313.7,1339.1 1315.6,1341.8 1317.2,1341.3 C1318.8,1340.8 1319.9,1335.7 1321.5,1335.9 C1323.1,1336.1 1324.8,1342.3 1327.0,1342.4 C1329.2,1342.5 1332.4,1336.8 1334.6,1336.4 C1336.8,1336.0 1338.4,1340.3 1340.0,1340.2 C1341.6,1340.1 1342.8,1336.1 1344.3,1335.9 C1345.8,1335.7 1347.4,1339.5 1348.7,1339.1 C1350.0,1338.7 1350.7,1334.2 1352.0,1333.7 C1353.3,1333.2 1354.7,1336.5 1356.3,1335.9 C1357.9,1335.4 1359.9,1332.2 1361.7,1330.4 C1363.5,1328.6 1365.8,1325.0 1367.2,1325.0 C1368.7,1325.0 1369.0,1330.6 1370.4,1330.4 C1371.9,1330.2 1374.1,1324.2 1375.9,1323.9 C1377.7,1323.6 1379.5,1328.3 1381.3,1328.3 C1383.1,1328.3 1384.7,1325.4 1386.7,1323.9 C1388.7,1322.5 1391.5,1320.3 1393.3,1319.6 C1395.1,1318.9 1396.3,1321.0 1397.6,1319.6 C1398.9,1318.1 1399.8,1313.8 1400.9,1310.9 C1402.0,1308.0 1403.1,1306.2 1404.1,1302.2 C1405.1,1298.2 1405.7,1291.0 1406.8,1287.0 C1407.9,1283.0 1409.3,1279.0 1410.7,1278.3 C1412.1,1277.6 1413.7,1279.7 1415.0,1282.6 C1416.3,1285.5 1417.4,1291.3 1418.7,1295.7 C1420.0,1300.1 1421.5,1305.3 1423.0,1308.7 C1424.5,1312.1 1426.0,1314.1 1427.4,1316.3 C1428.9,1318.5 1429.7,1319.7 1431.7,1321.7 C1433.7,1323.7 1436.8,1326.5 1439.3,1328.3 C1441.8,1330.1 1445.0,1331.3 1447.0,1332.6 C1449.0,1333.9 1449.7,1335.9 1451.3,1335.9 C1452.9,1335.9 1454.7,1332.4 1456.7,1332.6 C1458.7,1332.8 1460.9,1337.4 1463.3,1337.0 C1465.7,1336.6 1468.6,1331.0 1470.9,1330.4 C1473.2,1329.9 1474.9,1333.2 1477.4,1333.7 C1479.9,1334.2 1483.6,1333.1 1486.1,1333.2 C1488.6,1333.3 1490.2,1334.5 1492.6,1334.2 C1494.9,1333.9 1496.9,1332.0 1500.2,1331.5 C1503.5,1331.0 1509.1,1331.0 1512.2,1331.5 C1515.3,1332.0 1516.4,1334.6 1518.7,1334.8 C1521.0,1335.0 1523.8,1333.1 1526.3,1332.6 C1528.8,1332.0 1531.9,1331.0 1533.9,1331.5 C1535.9,1332.0 1536.8,1335.5 1538.3,1335.9 C1539.8,1336.3 1540.4,1333.0 1542.6,1333.7 C1544.8,1334.4 1548.8,1340.1 1551.3,1340.2 C1553.8,1340.3 1555.6,1334.2 1557.8,1334.2 C1560.0,1334.2 1562.5,1339.9 1564.3,1340.2 C1566.1,1340.5 1566.9,1336.4 1568.7,1335.9 C1570.5,1335.4 1573.6,1336.1 1575.2,1337.0 C1576.8,1337.9 1577.0,1341.7 1578.5,1341.3 C1580.0,1340.9 1582.1,1335.7 1583.9,1334.8 C1585.7,1333.9 1587.7,1334.6 1589.3,1335.9 C1590.9,1337.2 1592.1,1342.4 1593.7,1342.4 C1595.3,1342.4 1597.3,1336.3 1599.1,1335.9 C1600.9,1335.5 1602.6,1340.0 1604.6,1340.2 C1606.6,1340.4 1609.5,1340.4 1611.1,1337.0 C1612.7,1333.6 1613.4,1323.0 1614.3,1319.6 C1615.2,1316.1 1615.6,1316.3 1616.5,1316.3 C1617.4,1316.3 1618.5,1318.0 1619.8,1319.6 C1621.1,1321.2 1622.6,1323.2 1624.1,1326.1 C1625.5,1329.0 1626.8,1334.8 1628.5,1337.0 C1630.2,1339.2 1632.1,1338.7 1634.0,1339.1 C1635.9,1339.5 1638.0,1340.4 1639.7,1339.5 C1641.5,1338.6 1642.9,1334.4 1644.5,1333.8 C1646.1,1333.2 1647.6,1334.8 1649.2,1335.7 C1650.8,1336.7 1652.3,1339.8 1653.9,1339.5 C1655.5,1339.2 1657.0,1333.5 1658.6,1333.8 C1660.2,1334.1 1661.7,1340.9 1663.4,1341.4 C1665.1,1341.9 1667.1,1337.7 1669.0,1336.7 C1670.9,1335.8 1673.0,1335.6 1674.7,1335.7 C1676.4,1335.8 1678.0,1338.2 1679.4,1337.6 C1680.8,1337.0 1681.8,1332.9 1683.2,1331.9 C1684.6,1331.0 1686.3,1332.5 1687.9,1331.9 C1689.5,1331.3 1691.3,1329.2 1692.7,1328.1 C1694.1,1327.0 1695.3,1326.7 1696.4,1325.3 C1697.5,1323.9 1698.0,1319.6 1699.3,1319.6 C1700.6,1319.6 1702.6,1325.3 1704.0,1325.3 C1705.4,1325.3 1706.5,1320.2 1707.8,1319.6 C1709.1,1319.0 1710.3,1322.0 1711.6,1321.5 C1712.8,1321.0 1713.9,1317.3 1715.3,1316.8 C1716.7,1316.3 1718.4,1319.3 1720.1,1318.7 C1721.8,1318.1 1724.1,1314.7 1725.7,1313.0 C1727.3,1311.3 1728.1,1309.5 1729.5,1308.3 C1730.9,1307.0 1732.9,1305.8 1734.2,1305.5 C1735.5,1305.2 1735.7,1307.2 1737.1,1306.4 C1738.5,1305.6 1741.4,1303.2 1742.8,1300.7 C1744.2,1298.2 1744.5,1293.3 1745.6,1291.3 C1746.7,1289.2 1748.3,1287.8 1749.4,1288.4 C1750.5,1289.0 1751.3,1292.2 1752.2,1295.1 C1753.1,1297.9 1753.9,1303.0 1755.0,1305.5 C1756.1,1308.0 1757.5,1308.8 1758.8,1310.2 C1760.1,1311.6 1761.3,1314.0 1762.6,1314.0 C1763.9,1314.0 1765.3,1313.4 1766.4,1310.2 C1767.5,1307.0 1768.4,1300.0 1769.2,1295.1 C1770.0,1290.2 1770.5,1286.4 1771.1,1280.9 C1771.7,1275.4 1772.4,1268.3 1773.0,1262.0 C1773.6,1255.7 1774.1,1247.0 1774.9,1243.1 C1775.7,1239.2 1776.8,1239.8 1777.7,1238.4 C1778.7,1237.0 1779.5,1235.9 1780.6,1234.6 C1781.7,1233.2 1783.2,1230.8 1784.3,1230.3 C1785.4,1229.8 1786.2,1229.6 1787.2,1231.7 C1788.2,1233.8 1789.2,1238.0 1790.0,1243.1 C1790.8,1248.1 1791.3,1255.7 1791.9,1262.0 C1792.5,1268.3 1793.2,1275.4 1793.8,1280.9 C1794.4,1286.4 1794.9,1289.9 1795.7,1295.1 C1796.5,1300.3 1797.4,1306.6 1798.5,1312.1 C1799.6,1317.6 1800.9,1324.8 1802.3,1328.1 C1803.7,1331.4 1805.6,1330.5 1807.0,1331.9 C1808.4,1333.3 1809.4,1336.5 1810.8,1336.7 C1812.2,1336.9 1813.8,1333.9 1815.5,1332.9 C1817.2,1332.0 1819.6,1330.5 1821.2,1331.0 C1822.8,1331.5 1823.6,1335.4 1825.0,1335.7 C1826.4,1336.0 1828.2,1332.9 1829.7,1332.9 C1831.2,1333.0 1832.4,1335.1 1834.0,1336.0 C1835.6,1336.9 1837.5,1338.6 1839.5,1338.2 C1841.5,1337.8 1843.6,1333.7 1846.1,1333.5 C1848.6,1333.3 1852.1,1336.8 1854.6,1337.3 C1857.1,1337.8 1859.0,1336.0 1861.2,1336.3 C1863.4,1336.6 1865.6,1339.2 1867.8,1339.1 C1870.0,1338.9 1872.0,1335.4 1874.4,1335.4 C1876.8,1335.4 1879.2,1337.8 1882.0,1339.1 C1884.8,1340.3 1888.9,1343.2 1891.4,1342.9 C1893.9,1342.6 1895.2,1337.9 1897.1,1337.3 C1899.0,1336.7 1900.9,1337.7 1902.8,1339.1 C1904.7,1340.5 1906.2,1346.3 1908.4,1345.8 C1910.6,1345.3 1913.6,1337.4 1916.0,1336.3 C1918.4,1335.2 1920.4,1338.8 1922.6,1339.1 C1924.8,1339.4 1926.8,1338.0 1929.2,1338.2 C1931.6,1338.4 1933.8,1339.5 1936.8,1340.1 C1939.8,1340.7 1944.7,1342.6 1947.2,1342.0 C1949.7,1341.4 1950.3,1336.8 1951.9,1336.3 C1953.5,1335.8 1954.8,1337.8 1956.7,1339.1 C1958.6,1340.4 1961.3,1343.7 1963.3,1343.9 C1965.3,1344.1 1967.2,1341.2 1968.9,1340.1 C1970.6,1339.0 1972.1,1337.0 1973.7,1337.3 C1975.3,1337.6 1976.5,1342.0 1978.4,1342.0 C1980.3,1342.0 1983.3,1337.6 1985.0,1337.3 C1986.7,1337.0 1987.2,1340.6 1988.8,1340.1 C1990.4,1339.6 1992.3,1335.5 1994.5,1334.4 C1996.7,1333.3 2000.0,1332.9 2002.0,1333.5 C2004.0,1334.1 2005.3,1338.2 2006.7,1338.2 C2008.1,1338.2 2008.6,1333.8 2010.5,1333.5 C2012.4,1333.2 2016.8,1335.8 2018.0,1336.3" fill="none" stroke="#FF0000" stroke-width="6.9" stroke-linejoin="round" stroke-linecap="round"/>
<line x1="711.0" y1="350.1" x2="706.4" y2="1391.5" stroke="#000" stroke-width="7.3" stroke-dasharray="9.5 18.4" stroke-dashoffset="0"/>
<line x1="793.1" y1="535.9" x2="797.9" y2="1353.9" stroke="#000" stroke-width="7.3" stroke-dasharray="9.5 18.4" stroke-dashoffset="0"/>
<line x1="832.9" y1="364.5" x2="837.7" y2="1378.0" stroke="#000" stroke-width="7.3" stroke-dasharray="9.5 18.4" stroke-dashoffset="0"/>
<line x1="1409.0" y1="532.7" x2="1413.9" y2="1379.2" stroke="#000" stroke-width="7.3" stroke-dasharray="9.5 18.4" stroke-dashoffset="0"/>
<line x1="1615.9" y1="505.1" x2="1621.0" y2="1351.2" stroke="#000" stroke-width="7.3" stroke-dasharray="9.5 18.4" stroke-dashoffset="0"/>
<line x1="737.3" y1="218.3" x2="741.4" y2="1330.0" stroke="#008000" stroke-width="7" stroke-dasharray="1 12.545" stroke-dashoffset="0"/>
<line x1="1067.8" y1="201.8" x2="1072.0" y2="1313.3" stroke="#008000" stroke-width="7" stroke-dasharray="1 12.545" stroke-dashoffset="0"/>
<line x1="955.7" y1="98.1" x2="958.1" y2="1381.6" stroke="#808080" stroke-width="7" stroke-dasharray="22.6 20.8 3.6 20.8 3.6 21.9" stroke-dashoffset="0"/>
<line x1="1143.6" y1="362.2" x2="1148.5" y2="1366.0" stroke="#808080" stroke-width="7" stroke-dasharray="22.6 20.8 3.6 20.8 3.6 21.9" stroke-dashoffset="0"/>
<line x1="1776.3" y1="420.0" x2="1783.4" y2="1399.1" stroke="#808080" stroke-width="7" stroke-dasharray="22.6 20.8 3.6 20.8 3.6 21.9" stroke-dashoffset="0"/>
<line x1="177" y1="51" x2="177" y2="1416.5" stroke="#000" stroke-width="5.6"/>
<line x1="174.2" y1="1413.9" x2="2020.5" y2="1413.9" stroke="#000" stroke-width="5.4"/>
<rect x="174.2" y="51" width="1845.1" height="2" fill="#000"/>
<rect x="2017.4" y="51" width="1.9" height="1363" fill="#000"/>
<line x1="202.8" y1="1414" x2="202.8" y2="1427" stroke="#000" stroke-width="5.2"/>
<line x1="332.5" y1="1414" x2="332.5" y2="1440.5" stroke="#000" stroke-width="5.2"/>
<line x1="462.1" y1="1414" x2="462.1" y2="1427" stroke="#000" stroke-width="5.2"/>
<line x1="591.8" y1="1414" x2="591.8" y2="1440.5" stroke="#000" stroke-width="5.2"/>
<line x1="721.5" y1="1414" x2="721.5" y2="1427" stroke="#000" stroke-width="5.2"/>
<line x1="851.1" y1="1414" x2="851.1" y2="1440.5" stroke="#000" stroke-width="5.2"/>
<line x1="980.8" y1="1414" x2="980.8" y2="1427" stroke="#000" stroke-width="5.2"/>
<line x1="1110.4" y1="1414" x2="1110.4" y2="1440.5" stroke="#000" stroke-width="5.2"/>
<line x1="1240.0" y1="1414" x2="1240.0" y2="1427" stroke="#000" stroke-width="5.2"/>
<line x1="1369.7" y1="1414" x2="1369.7" y2="1440.5" stroke="#000" stroke-width="5.2"/>
<line x1="1499.3" y1="1414" x2="1499.3" y2="1427" stroke="#000" stroke-width="5.2"/>
<line x1="1629.0" y1="1414" x2="1629.0" y2="1440.5" stroke="#000" stroke-width="5.2"/>
<line x1="1758.7" y1="1414" x2="1758.7" y2="1427" stroke="#000" stroke-width="5.2"/>
<line x1="1888.3" y1="1414" x2="1888.3" y2="1440.5" stroke="#000" stroke-width="5.2"/>
<line x1="2018.0" y1="1414" x2="2018.0" y2="1427" stroke="#000" stroke-width="5.2"/>
<text transform="translate(297.50,1509.30) scale(1,1.035)" font-family='"Liberation Sans", Arial, sans-serif' font-weight="bold" font-size="63.3" fill="#000">20</text>
<text transform="translate(557.17,1509.30) scale(1,1.035)" font-family='"Liberation Sans", Arial, sans-serif' font-weight="bold" font-size="63.3" fill="#000">30</text>
<text transform="translate(816.73,1509.30) scale(1,1.035)" font-family='"Liberation Sans", Arial, sans-serif' font-weight="bold" font-size="63.3" fill="#000">40</text>
<text transform="translate(1075.52,1509.30) scale(1,1.035)" font-family='"Liberation Sans", Arial, sans-serif' font-weight="bold" font-size="63.3" fill="#000">50</text>
<text transform="translate(1334.63,1509.30) scale(1,1.035)" font-family='"Liberation Sans", Arial, sans-serif' font-weight="bold" font-size="63.3" fill="#000">60</text>
<text transform="translate(1593.74,1509.30) scale(1,1.035)" font-family='"Liberation Sans", Arial, sans-serif' font-weight="bold" font-size="63.3" fill="#000">70</text>
<text transform="translate(1853.39,1509.30) scale(1,1.035)" font-family='"Liberation Sans", Arial, sans-serif' font-weight="bold" font-size="63.3" fill="#000">80</text>
<text transform="translate(100.6,775.5) rotate(-90) scale(1,1.015)" text-anchor="middle" font-family='"Liberation Sans", Arial, sans-serif' font-weight="bold" font-size="66.6" fill="#000">Intensity / a.u.</text>
<text transform="translate(968.64,1622.90) scale(1,1.04)" font-family='"Liberation Sans", Arial, sans-serif' font-weight="bold" font-size="76" fill="#000">2</text>
<text transform="translate(1009.05,1623.62) scale(1,1.0478)" font-family='"Liberation Serif", "Times New Roman", serif' font-weight="bold" font-size="74.56" fill="#000">Θ</text>
<text transform="translate(1085.34,1622.90) scale(1,1.0)" font-family='"Liberation Sans", Arial, sans-serif' font-weight="bold" font-size="76" fill="#000">/</text>
<text transform="translate(1128.68,1622.90) scale(1,1.0)" font-family='"Liberation Sans", Arial, sans-serif' font-weight="bold" font-size="76" fill="#000">degree</text>
<text transform="translate(219.38,117.80) scale(1,1.04)" font-family='"Liberation Sans", Arial, sans-serif' font-weight="bold" font-size="57" fill="#0000FF">Ni/Mo</text>
<text transform="translate(376.06,141.90) scale(1,1.04)" font-family='"Liberation Sans", Arial, sans-serif' font-weight="bold" font-size="33.8" fill="#0000FF">x</text>
<text transform="translate(395.86,117.80) scale(1,1.04)" font-family='"Liberation Sans", Arial, sans-serif' font-weight="bold" font-size="57" fill="#0000FF">C/rGOCS</text>
<text transform="translate(229.08,1221.10) scale(1,1.04)" font-family='"Liberation Sans", Arial, sans-serif' font-weight="bold" font-size="57" fill="#FF0000">Ni/Mo</text>
<text transform="translate(386.06,1245.00) scale(1,1.04)" font-family='"Liberation Sans", Arial, sans-serif' font-weight="bold" font-size="33.8" fill="#FF0000">x</text>
<text transform="translate(404.26,1221.10) scale(1,1.04)" font-family='"Liberation Sans", Arial, sans-serif' font-weight="bold" font-size="57" fill="#FF0000">C/MeCS</text>
<text transform="translate(573.15,299.20) scale(1,1.04)" font-family='"Liberation Sans", Arial, sans-serif' font-weight="bold" font-size="51.5" fill="#000">Mo</text>
<text transform="translate(648.60,325.00) scale(1,1.04)" font-family='"Liberation Sans", Arial, sans-serif' font-weight="bold" font-size="51.5" fill="#000">2</text>
<text transform="translate(677.59,299.20) scale(1,1.04)" font-family='"Liberation Sans", Arial, sans-serif' font-weight="bold" font-size="51.5" fill="#000">C</text>
<text transform="translate(767.85,335.10) scale(1,1.04)" font-family='"Liberation Sans", Arial, sans-serif' font-weight="bold" font-size="51.5" fill="#000">Mo</text>
<text transform="translate(843.30,360.90) scale(1,1.04)" font-family='"Liberation Sans", Arial, sans-serif' font-weight="bold" font-size="51.5" fill="#000">2</text>
<text transform="translate(872.29,335.10) scale(1,1.04)" font-family='"Liberation Sans", Arial, sans-serif' font-weight="bold" font-size="51.5" fill="#000">C</text>
<text transform="translate(1273.15,509.10) scale(1,1.04)" font-family='"Liberation Sans", Arial, sans-serif' font-weight="bold" font-size="51.5" fill="#000">Mo</text>
<text transform="translate(1348.60,534.90) scale(1,1.04)" font-family='"Liberation Sans", Arial, sans-serif' font-weight="bold" font-size="51.5" fill="#000">2</text>
<text transform="translate(1377.59,509.10) scale(1,1.04)" font-family='"Liberation Sans", Arial, sans-serif' font-weight="bold" font-size="51.5" fill="#000">C</text>
<text transform="translate(1496.55,481.50) scale(1,1.04)" font-family='"Liberation Sans", Arial, sans-serif' font-weight="bold" font-size="51.5" fill="#000">Mo</text>
<text transform="translate(1572.00,507.30) scale(1,1.04)" font-family='"Liberation Sans", Arial, sans-serif' font-weight="bold" font-size="51.5" fill="#000">2</text>
<text transform="translate(1600.99,481.50) scale(1,1.04)" font-family='"Liberation Sans", Arial, sans-serif' font-weight="bold" font-size="51.5" fill="#000">C</text>
<text transform="translate(732.75,196.20) scale(1,1.04)" font-family='"Liberation Sans", Arial, sans-serif' font-weight="bold" font-size="51.5" fill="#008000">MoC</text>
<text transform="translate(1067.95,189.10) scale(1,1.04)" font-family='"Liberation Sans", Arial, sans-serif' font-weight="bold" font-size="51.5" fill="#008000">MoC</text>
<text transform="translate(968.28,172.80) scale(1,1.04)" font-family='"Liberation Sans", Arial, sans-serif' font-weight="bold" font-size="57" fill="#808080">Ni</text>
<text transform="translate(1152.18,380.20) scale(1,1.04)" font-family='"Liberation Sans", Arial, sans-serif' font-weight="bold" font-size="57" fill="#808080">Ni</text>
<text transform="translate(1805.18,447.80) scale(1,1.04)" font-family='"Liberation Sans", Arial, sans-serif' font-weight="bold" font-size="57" fill="#808080">Ni</text>
<rect x="484.3" y="453.2" width="21.8" height="21.6" fill="#000"/>
<rect x="470.5" y="1244.4" width="21.4" height="21.4" fill="#000"/>
<rect x="1693" y="103.9" width="22.5" height="22.2" fill="#000"/>
<text transform="translate(337.17,649.03) scale(1,0.9921)" font-family='"Liberation Sans", Arial, sans-serif' font-weight="bold" font-size="46.90" fill="#FF0080">o</text>
<text transform="translate(624.40,697.54) scale(1,0.9884)" font-family='"Liberation Sans", Arial, sans-serif' font-weight="bold" font-size="46.15" fill="#FF0080">o</text>
<text transform="translate(819.20,286.08) scale(1,0.9726)" font-family='"Liberation Sans", Arial, sans-serif' font-weight="bold" font-size="43.53" fill="#FF0080">o</text>
<text transform="translate(1130.29,328.94) scale(1,0.9844)" font-family='"Liberation Sans", Arial, sans-serif' font-weight="bold" font-size="46.53" fill="#FF0080">o</text>
<text transform="translate(1352.28,674.65) scale(1,0.9726)" font-family='"Liberation Sans", Arial, sans-serif' font-weight="bold" font-size="46.72" fill="#FF0080">o</text>
<text transform="translate(1392.98,426.84) scale(1,0.9765)" font-family='"Liberation Sans", Arial, sans-serif' font-weight="bold" font-size="46.72" fill="#FF0080">o</text>
<text transform="translate(1603.17,423.03) scale(1,0.9921)" font-family='"Liberation Sans", Arial, sans-serif' font-weight="bold" font-size="46.90" fill="#FF0080">o</text>
<text transform="translate(1696.74,277.94) scale(1,0.9650)" font-family='"Liberation Sans", Arial, sans-serif' font-weight="bold" font-size="47.65" fill="#FF0080">o</text>
<text transform="translate(755.89,1287.39) scale(1,1.0003)" font-family='"Liberation Sans", Arial, sans-serif' font-weight="bold" font-size="69.87" fill="#800000">*</text>
<text transform="translate(908.59,1300.87) scale(1,0.9649)" font-family='"Liberation Sans", Arial, sans-serif' font-weight="bold" font-size="69.09" fill="#800000">*</text>
<text transform="translate(1691.59,220.29) scale(1,0.9785)" font-family='"Liberation Sans", Arial, sans-serif' font-weight="bold" font-size="71.43" fill="#800000">*</text>
<text transform="translate(1740.80,134.00) scale(1,1.0)" font-family='"Liberation Sans", Arial, sans-serif' font-weight="bold" font-size="51.2" fill="#000">Graphite</text>
<text transform="translate(1751.57,204.30) scale(1,1.04)" font-family='"Liberation Sans", Arial, sans-serif' font-weight="bold" font-size="51.2" fill="#800000">Mo</text>
<text transform="translate(1826.47,229.80) scale(1,1.04)" font-family='"Liberation Sans", Arial, sans-serif' font-weight="bold" font-size="51.2" fill="#800000">16</text>
<text transform="translate(1882.97,204.30) scale(1,1.04)" font-family='"Liberation Sans", Arial, sans-serif' font-weight="bold" font-size="51.2" fill="#800000">N</text>
<text transform="translate(1919.40,229.80) scale(1,1.04)" font-family='"Liberation Sans", Arial, sans-serif' font-weight="bold" font-size="51.2" fill="#800000">7</text>
<text transform="translate(1746.28,293.20) scale(1,1.04)" font-family='"Liberation Sans", Arial, sans-serif' font-weight="bold" font-size="51.0" fill="#FF0080">Ni(OH)</text>
<text transform="translate(1906.62,313.60) scale(1,1.04)" font-family='"Liberation Sans", Arial, sans-serif' font-weight="bold" font-size="31.0" fill="#FF0080">2</text>
</svg></body></html>
